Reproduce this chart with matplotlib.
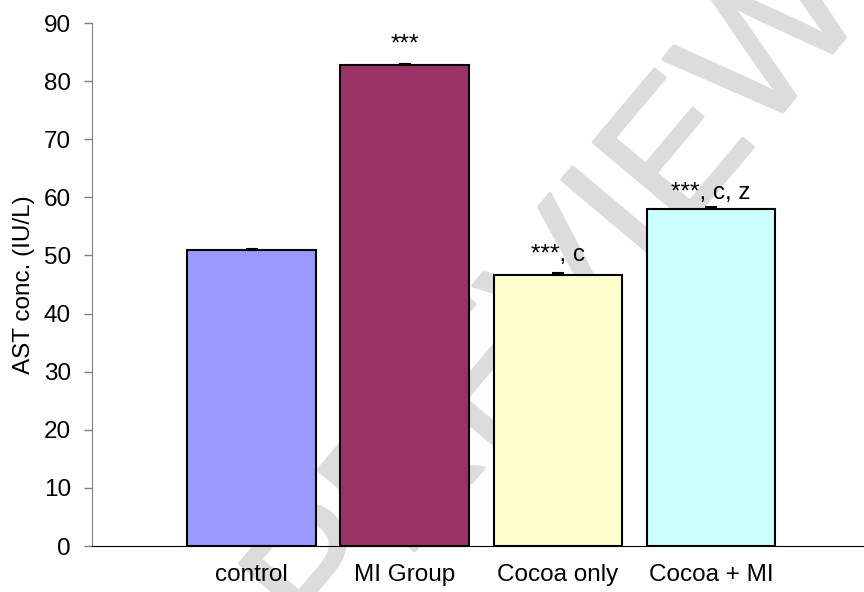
# Grafico de barras de AST por grupo
import numpy as np
import matplotlib
matplotlib.use("Agg")
import matplotlib.pyplot as plt
import matplotlib.patheffects as pe

# datos
grupos = ["control", "MI Group", "Cocoa only", "Cocoa + MI"]
ast = [50.9, 82.7, 46.7, 58.0]
err = [0.2, 0.2, 0.2, 0.3]
etiquetas = ["", "***", "***, c", "***, c, z"]
colores = ["#9999FF", "#993366", "#FFFFCC", "#CCFFFF"]
desfase = [15, 15, 14, 10]  # pixeles sobre la barra

plt.rcParams['font.family'] = ['Liberation Sans', 'DejaVu Sans']

fig = plt.figure(figsize=(8.64, 5.92), dpi=100)
ax = fig.add_axes([0.107, 0.0777, 0.893, 0.8834])

# marca de agua gris claro detras de las barras
ax.text(0.65, 0.49, "PREVIEW", transform=fig.transFigure, rotation=50,
        fontsize=132, color="#dcdcdc", ha="center", va="center",
        zorder=0.5, clip_on=False,
        path_effects=[pe.Stroke(linewidth=2, foreground="#dcdcdc",
                                joinstyle="round", capstyle="round"), pe.Normal()])

x = np.arange(len(grupos))
ax.bar(x, ast, width=0.84, color=colores, edgecolor="black", linewidth=1.5, zorder=2)
ax.errorbar(x, ast, yerr=[[0] * len(err), err], fmt="none", ecolor="black",
            elinewidth=1.2, capsize=4.5, capthick=1.5, zorder=3)

for xi, v, t, d in zip(x, ast, etiquetas, desfase):
    if t:
        ax.annotate(t, (xi, v), xytext=(0, d * 0.72), textcoords="offset points",
                    ha="center", va="baseline", fontsize=17.5)

ax.set_xlim(-1.04, 4.0)
ax.set_ylim(0, 90)
ax.set_yticks(range(0, 91, 10))
ax.set_xticks(x)
ax.set_xticklabels(grupos, fontsize=17.5)
ax.tick_params(axis="x", length=0, pad=13)
ax.tick_params(axis="y", length=5.5, width=1, color="#808080", labelsize=17.5, pad=10)
ax.set_ylabel("AST conc. (IU/L)", fontsize=17.5, labelpad=6)

ax.spines["top"].set_visible(False)
ax.spines["right"].set_visible(False)
ax.spines["left"].set_color("#808080")
ax.spines["bottom"].set_color("black")
ax.spines["bottom"].set_zorder(4)

fig.savefig("out.png", dpi=100)
